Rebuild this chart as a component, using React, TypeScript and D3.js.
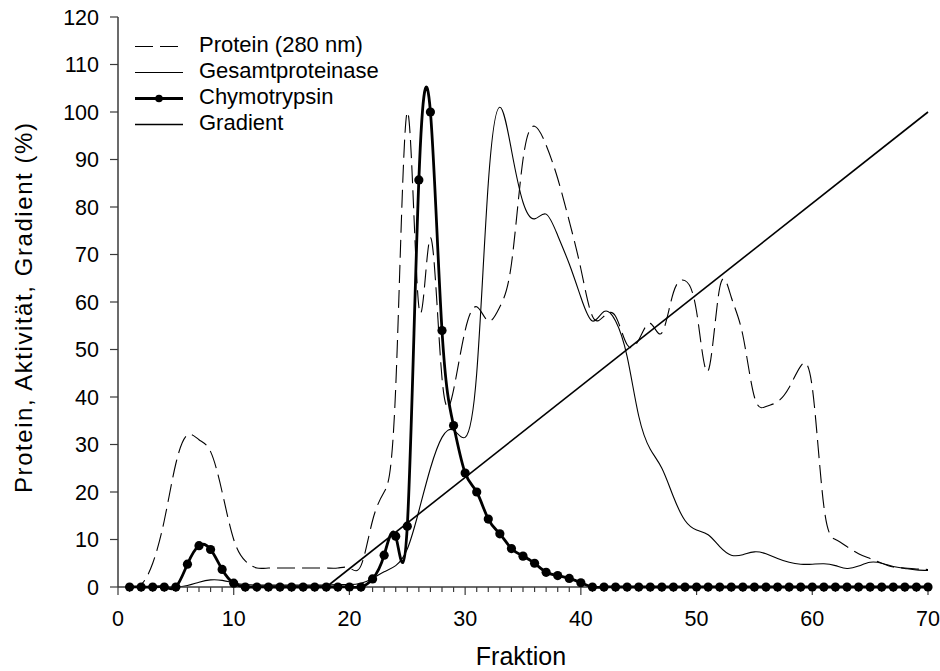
import React from "react";
import * as d3 from "d3";

// Fraction numbers 1..70 collected from the column
const fractions: number[] = d3.range(1, 71);

// Protein absorbance at 280 nm (% of max)
const protein: number[] = [
  0, 0.5, 5, 14, 26, 32, 31, 28.5, 20, 10,
  5.5, 4, 4, 4, 4, 4, 4, 4, 4, 4,
  4.5, 14, 20, 42, 100, 59, 73.5, 44, 41.5, 54,
  59, 56, 59, 68, 90, 97, 93, 86, 77, 67,
  57, 57, 57, 51, 52, 55.5, 53.5, 62, 64.5, 58,
  45.5, 63, 61, 53, 40, 38, 39, 42, 46.5, 42,
  17, 10, 8.5, 7, 6, 5, 4.2, 4, 3.8, 3.7,
];

// Total proteinase activity (% of max)
const gesamtproteinase: number[] = [
  0, 0, 0, 0, 0, 0.3, 1, 1.5, 1.4, 0.9,
  0.5, 0.4, 0.4, 0.4, 0.4, 0.4, 0.4, 0.4, 0.5, 0.5,
  0.8, 1.8, 3.2, 4.5, 8, 16, 25, 31.5, 33, 31.5,
  45, 85, 101, 92, 81, 77.5, 78.5, 74, 68, 61,
  56, 58, 56, 48.5, 36, 29, 25, 19, 14, 12,
  11, 8.5, 6.7, 6.8, 7.4, 7, 6, 5.2, 4.8, 4.8,
  4.9, 4.5, 3.9, 4.4, 5.2, 5, 4.3, 3.9, 3.6, 3.5,
];

// Chymotrypsin activity (% of max)
const chymotrypsin: number[] = [
  0, 0, 0, 0, 0, 4.8, 8.7, 7.9, 3.7, 0.8,
  0, 0, 0, 0, 0, 0, 0, 0, 0, 0,
  0, 1.7, 6.7, 10.7, 12.8, 85.7, 100, 54, 34, 24,
  20, 14.3, 11.2, 8.1, 6.5, 5, 3.1, 2.4, 1.8, 0.9,
  0, 0, 0, 0, 0, 0, 0, 0, 0, 0,
  0, 0, 0, 0, 0, 0, 0, 0, 0, 0,
  0, 0, 0, 0, 0, 0, 0, 0, 0, 0,
];

// Salt gradient, linear between start and end fraction
const gradientFractions: number[] = [18, 70];
const gradientPercent: number[] = [0, 100];

const xTicks: number[] = [0, 10, 20, 30, 40, 50, 60, 70];
const xMinorTicks: number[] = d3.range(0, 71);
const yTicks: number[] = [0, 10, 20, 30, 40, 50, 60, 70, 80, 90, 100, 110, 120];

const legendItems = [
  { key: "protein", label: "Protein (280 nm)" },
  { key: "gesamt", label: "Gesamtproteinase" },
  { key: "chymo", label: "Chymotrypsin" },
  { key: "gradient", label: "Gradient" },
];

const FONT = "'Liberation Sans', Arial, Helvetica, sans-serif";
const AXIS_COLOR = "#3a3a3a";

export default function App() {
  const width = 940;
  const height = 671;
  const x = d3.scaleLinear().domain([0, 70]).range([118, 928]);
  const y = d3.scaleLinear().domain([0, 120]).range([587, 17]);

  const spline = d3
    .line<[number, number]>()
    .x((d) => x(d[0]))
    .y((d) => y(d[1]))
    .curve(d3.curveNatural);

  const straight = d3
    .line<[number, number]>()
    .x((d) => x(d[0]))
    .y((d) => y(d[1]));

  const pairs = (vals: number[]) =>
    fractions.map((f, i) => [f, vals[i]] as [number, number]);

  const proteinPath = spline(pairs(protein)) || "";
  const gesamtPath = spline(pairs(gesamtproteinase)) || "";
  const chymoPath = spline(pairs(chymotrypsin)) || "";
  const gradientPath =
    straight(gradientFractions.map((f, i) => [f, gradientPercent[i]] as [number, number])) || "";

  const legendX0 = 135;
  const legendX1 = 183;
  const legendTextX = 199;
  const legendBase = 52;
  const legendStep = 26;

  return (
    <svg
      width={width}
      height={height}
      style={{ position: "absolute", left: 0, top: 0, background: "#fff" }}
      fontFamily={FONT}
    >
      <rect x={0} y={0} width={width} height={height} fill="#fff" />

      {/* series */}
      <path d={gradientPath} fill="none" stroke="#000" strokeWidth={1.6} />
      <path d={proteinPath} fill="none" stroke="#000" strokeWidth={1.1} strokeDasharray="18,7" />
      <path d={gesamtPath} fill="none" stroke="#000" strokeWidth={1.1} />

      {/* axes */}
      <line x1={x(0)} x2={x(70)} y1={y(0)} y2={y(0)} stroke={AXIS_COLOR} strokeWidth={1.5} />
      <line x1={x(0)} x2={x(0)} y1={y(0)} y2={y(120)} stroke={AXIS_COLOR} strokeWidth={1.5} />
      {xMinorTicks.map((t) => (
        <line
          key={"xm" + t}
          x1={x(t)}
          x2={x(t)}
          y1={y(0)}
          y2={y(0) + (t % 10 === 0 ? 8 : 5)}
          stroke={AXIS_COLOR}
          strokeWidth={1.2}
        />
      ))}
      {xTicks.map((t) => (
        <text key={"xl" + t} x={x(t)} y={626} fontSize={21.5} textAnchor="middle" fill="#000">
          {t}
        </text>
      ))}
      {yTicks.map((t) => (
        <g key={"y" + t}>
          <line x1={x(0) - 8} x2={x(0)} y1={y(t)} y2={y(t)} stroke={AXIS_COLOR} strokeWidth={1.2} />
          <text x={99} y={y(t) + 7.5} fontSize={21.5} textAnchor="end" fill="#000">
            {t}
          </text>
        </g>
      ))}

      {/* chymotrypsin on top with markers */}
      <path d={chymoPath} fill="none" stroke="#000" strokeWidth={2.8} />
      {fractions.map((f, i) => (
        <circle key={"c" + f} cx={x(f)} cy={y(chymotrypsin[i])} r={4.6} fill="#000" />
      ))}

      {/* axis titles */}
      <text x={521} y={665} fontSize={25} textAnchor="middle" fill="#000">
        Fraktion
      </text>
      <text
        transform="translate(32,308) rotate(-90)"
        fontSize={24}
        textAnchor="middle"
        fill="#000"
        textLength={370}
        lengthAdjust="spacing"
      >
        Protein, Aktivität, Gradient (%)
      </text>

      {/* legend */}
      {legendItems.map((item, i) => {
        const base = legendBase + i * legendStep;
        const ly = base - 5.5;
        return (
          <g key={item.key}>
            {item.key === "protein" && (
              <line x1={legendX0} x2={legendX1} y1={ly} y2={ly} stroke="#000" strokeWidth={1.1} strokeDasharray="18,7" />
            )}
            {item.key === "gesamt" && (
              <line x1={legendX0} x2={legendX1} y1={ly} y2={ly} stroke="#000" strokeWidth={1.1} />
            )}
            {item.key === "chymo" && (
              <g>
                <line x1={legendX0} x2={legendX1} y1={ly} y2={ly} stroke="#000" strokeWidth={2.8} />
                <circle cx={(legendX0 + legendX1) / 2} cy={ly} r={3.8} fill="#000" />
              </g>
            )}
            {item.key === "gradient" && (
              <line x1={legendX0} x2={legendX1} y1={ly} y2={ly} stroke="#000" strokeWidth={1.6} />
            )}
            <text x={legendTextX} y={base} fontSize={22} fill="#000">
              {item.label}
            </text>
          </g>
        );
      })}
    </svg>
  );
}
